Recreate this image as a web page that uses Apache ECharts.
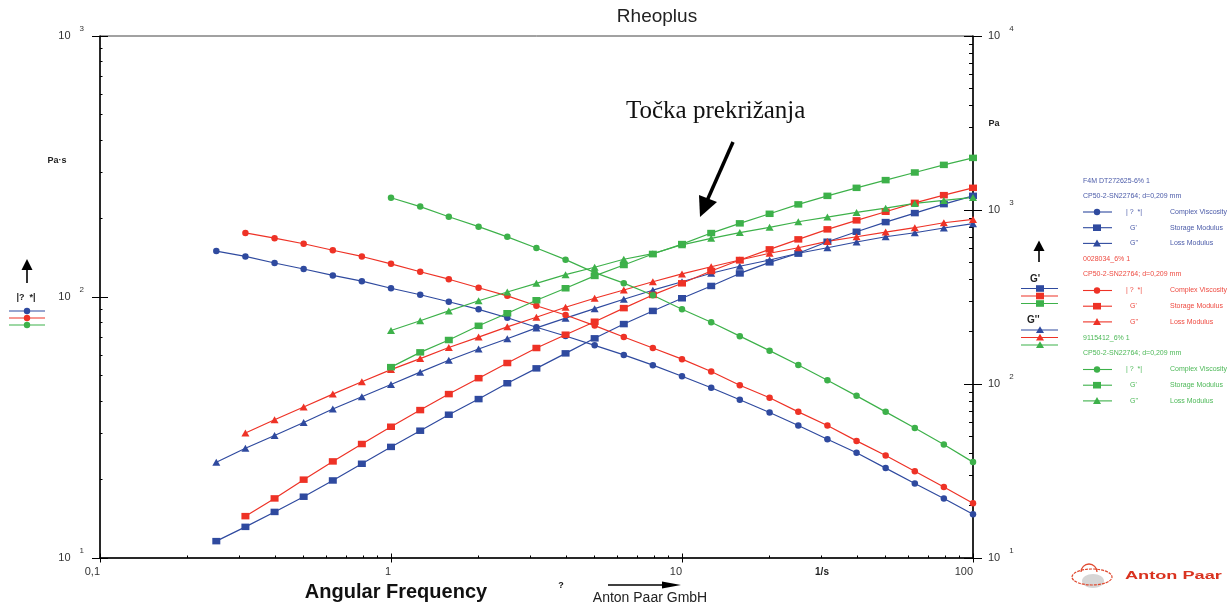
<!DOCTYPE html>
<html>
<head>
<meta charset="utf-8">
<script src="https://cdn.jsdelivr.net/npm/echarts@6/dist/echarts.min.js"></script>
<style>
html,body{margin:0;padding:0;background:#fff}
#main{width:1232px;height:607px}
</style>
</head>
<body>
<div id="main"></div>
<script>
// angular frequency [1/s], 10 points per decade
var freq = [0.251,0.316,0.398,0.501,0.631,0.794,1,1.26,1.58,2,2.51,3.16,3.98,5.01,6.31,7.94,10,12.6,15.8,20,25.1,31.6,39.8,50.1,63.1,79.4,100];

// F4M DT272625-6% 1 (blue) - from 0.251
var blueEta = [150,143,135,128,121,115,108,102,95.9,89.7,83.3,76.6,70.9,65.3,60.0,54.8,49.7,44.9,40.4,36.1,32.2,28.5,25.3,22.1,19.3,16.9,14.7];
var blueG1 = [12.5,15.1,18.4,22.5,27.9,34.8,43.5,53.9,66.6,81.9,101,123,150,183,221,263,311,366,432,500,564,657,750,852,960,1081,1206];
var blueG2 = [35.5,42.7,50.6,60.1,71.8,84.4,99.3,117,137,159,182,210,239,271,307,346,387,433,475,516,564,607,655,702,740,788,834];

// 0028034_6% 1 (red) - from 0.316
var redEta = [176,168,160,151,143,134,125,117,108.5,101,92.6,85.3,77.7,70.3,63.8,57.8,51.8,45.9,41.1,36.3,32.2,28.1,24.7,21.5,18.7,16.2];
var redG1 = [17.4,22.0,28.2,35.9,45.2,56.8,70.8,87.5,108,132,161,192,228,273,325,379,446,516,594,678,774,872,977,1099,1217,1341];
var redG2 = [52.3,62.3,73.7,87.5,103,121,140,162,186,213,242,276,311,347,387,429,472,516,564,607,660,702,747,791,845,883];

// 9115412_6% 1 (green) - from 1
var greenEta = [240,222,203,186,170,154,139,124,113,101.5,89.7,80.0,70.8,62.3,54.9,48.0,41.8,36.3,31.5,27.2,23.3];
var greenG1 = [125,152,179,216,255,303,355,418,483,559,637,737,838,951,1077,1206,1341,1485,1643,1817,1993];
var greenG2 = [203,231,263,301,338,379,425,469,521,561,631,687,742,795,856,911,968,1025,1091,1135,1181];

var xMajor = [0.1,1,10,100];
var leftMajor = [10,100,1000];
var rightMajor = [10,100,1000,10000];

var BLUE = '#2f4a9f', RED = '#ee3226', GREEN = '#3db14a';
var FONT = '"Liberation Sans", Arial, sans-serif';

function minors(lo, hi) {
  var out = [];
  for (var d = lo; d < hi; d *= 10)
    for (var k = 2; k <= 9; k++) out.push(+(k * d).toPrecision(3));
  return out;
}

function pairs(ys) {
  var off = freq.length - ys.length;
  return ys.map(function (v, i) { return [freq[off + i], v]; });
}

function line(name, ys, color, symbol, size, yIdx) {
  return {
    name: name, type: 'line', xAxisIndex: 0, yAxisIndex: yIdx,
    data: pairs(ys), symbol: symbol, symbolSize: size, showSymbol: true,
    lineStyle: {color: color, width: 1.2}, itemStyle: {color: color},
    animation: false
  };
}

function tickAxis(grid, pos, min, max, vals, len) {
  return {
    type: 'log', gridIndex: grid, position: pos, min: min, max: max,
    axisLine: {show: false}, axisLabel: {show: false}, splitLine: {show: false},
    axisTick: {show: true, inside: true, length: len, customValues: vals, lineStyle: {color: '#000', width: 1}}
  };
}

var powRich = {
  b: {fontSize: 11, color: '#333', fontFamily: FONT, lineHeight: 22},
  e: {fontSize: 8, color: '#333', fontFamily: FONT, verticalAlign: 'top', lineHeight: 8, padding: [0, 0, 0, 9]}
};
function powLabel(v) { return '{b|10}{e|' + Math.round(Math.log10(v)) + '}'; }

var gridRect = {left: 100, top: 36, width: 873, height: 522, outerBoundsMode: 'none'};

// ---- graphic: texts, legends, arrows
var g = [];
function txt(x, y, s, font, color, align, extra) {
  var o = {type: 'text', x: x, y: y, style: {text: s, font: font, fill: color || '#222', textAlign: align || 'left', textVerticalAlign: 'middle'}};
  if (extra) for (var k in extra) o[k] = extra[k];
  g.push(o);
}
function seg(x1, y1, x2, y2, color, w) {
  g.push({type: 'line', shape: {x1: x1, y1: y1, x2: x2, y2: y2}, style: {stroke: color, lineWidth: w || 1}});
}
function poly(pts, color) {
  g.push({type: 'polygon', shape: {points: pts}, style: {fill: color}});
}
function marker(kind, x, y, color) {
  if (kind === 'circle') g.push({type: 'circle', shape: {cx: x, cy: y, r: 3.2}, style: {fill: color}});
  else if (kind === 'rect') g.push({type: 'rect', shape: {x: x - 4, y: y - 3.3, width: 8, height: 6.6}, style: {fill: color}});
  else poly([[x, y - 3.8], [x - 4, y + 3], [x + 4, y + 3]], color);
}

txt(657, 17, 'Rheoplus', '19px ' + FONT, '#222', 'center');
txt(57, 161, 'Pa·s', 'bold 9px ' + FONT, '#222', 'center');
txt(994, 124, 'Pa', 'bold 9px ' + FONT, '#222', 'center');
txt(822, 572, '1/s', 'bold 10px ' + FONT, '#222', 'center');

// crossover annotation
txt(626, 111, 'Točka prekrižanja', '25px "Liberation Serif", "Times New Roman", serif', '#111', 'left');
seg(733, 142, 706, 203, '#000', 3.5);
poly([[700, 217], [717, 202], [699, 195]], '#000');

// left axis legend
seg(27, 283, 27, 267, '#000', 1.6);
poly([[27, 259], [21.5, 270], [32.5, 270]], '#000');
txt(26, 298, '|?  *|', 'bold 9px ' + FONT, '#222', 'center');
[[BLUE, 311], [RED, 318], [GREEN, 325]].forEach(function (r) {
  seg(9, r[1], 45, r[1], r[0], 1.2);
  marker('circle', 27, r[1], r[0]);
});

// right axis legend
seg(1039, 262, 1039, 249, '#000', 1.6);
poly([[1039, 240.5], [1033.5, 251], [1044.5, 251]], '#000');
txt(1030, 279, "G'", 'bold 10px ' + FONT, '#222', 'left');
[[BLUE, 288.5], [RED, 296], [GREEN, 303.5]].forEach(function (r) {
  seg(1021, r[1], 1058, r[1], r[0], 1.2);
  marker('rect', 1040, r[1], r[0]);
});
txt(1027, 320, "G''", 'bold 10px ' + FONT, '#222', 'left');
[[BLUE, 330], [RED, 337.5], [GREEN, 345]].forEach(function (r) {
  seg(1021, r[1], 1058, r[1], r[0], 1.2);
  marker('triangle', 1040, r[1], r[0]);
});

// sample legend block
var samples = [
  ['F4M DT272625-6% 1', BLUE, '#4a5aa8', 181],
  ['0028034_6% 1', RED, '#ee4a40', 259.5],
  ['9115412_6% 1', GREEN, '#4cb857', 338.5]
];
var rows = [['circle', '| ?  *|', 'Complex Viscosity', 1126], ['rect', "G'", 'Storage Modulus', 1130], ['triangle', "G''", 'Loss Modulus', 1130]];
samples.forEach(function (s) {
  var f = '7px ' + FONT;
  txt(1083, s[3], s[0], f, s[2], 'left');
  txt(1083, s[3] + 15, 'CP50-2-SN22764; d=0,209 mm', f, s[2], 'left');
  rows.forEach(function (r, i) {
    var y = s[3] + 31 + i * 15.7;
    seg(1083, y, 1112, y, s[1], 1.1);
    marker(r[0], 1097, y, s[1]);
    txt(r[3], y, r[1], f, s[2], 'left');
    txt(1170, y, r[2], f, s[2], 'left');
  });
});

// bottom texts
txt(396, 592, 'Angular Frequency', 'bold 20px ' + FONT, '#111', 'center');
txt(561, 586, '?', 'bold 9px ' + FONT, '#111', 'center');
seg(608, 585, 665, 585, '#000', 1.5);
poly([[681, 585], [662, 581.5], [662, 588.5]], '#000');
txt(650, 598, 'Anton Paar GmbH', '14px ' + FONT, '#222', 'center');

// logo
g.push({type: 'ellipse', shape: {cx: 1093, cy: 581, rx: 11, ry: 7}, style: {fill: '#d6d6d6'}});
g.push({type: 'ellipse', shape: {cx: 1092, cy: 577, rx: 20, ry: 8}, style: {fill: 'none', stroke: '#e04a30', lineWidth: 1.2, lineDash: [3, 1]}});
g.push({type: 'arc', shape: {cx: 1089, cy: 572, r: 8, startAngle: Math.PI, endAngle: 2 * Math.PI}, style: {fill: 'none', stroke: '#e04a30', lineWidth: 1.3}});
txt(1125, 576, 'Anton Paar', 'bold 11px ' + FONT, '#d9321f', 'left', {scaleX: 1.65, originX: 0, originY: 0});

var chart = echarts.init(document.getElementById('main'), null, {renderer: 'canvas'});
chart.setOption({
  animation: false,
  backgroundColor: '#fff',
  grid: [
    Object.assign({show: true, borderColor: '#444', borderWidth: 1}, gridRect),
    Object.assign({show: false}, gridRect),
    Object.assign({show: false}, gridRect)
  ],
  xAxis: [
    {
      type: 'log', gridIndex: 0, position: 'bottom', min: 0.1, max: 100,
      axisLine: {lineStyle: {color: '#000', width: 1.5}},
      axisTick: {inside: false, length: 4.5, lineStyle: {color: '#000', width: 1}},
      axisLabel: {
        align: 'right', margin: 8, fontSize: 11, color: '#333', fontFamily: FONT,
        customValues: xMajor,
        formatter: function (v) { return String(v).replace('.', ','); }
      },
      splitLine: {show: false}
    },
    tickAxis(1, 'bottom', 0.1, 100, minors(0.1, 100), 2.5),
    tickAxis(2, 'bottom', 0.1, 100, xMajor, 4.5)
  ],
  yAxis: [
    {
      type: 'log', gridIndex: 0, position: 'left', min: 10, max: 1000,
      axisLine: {lineStyle: {color: '#000', width: 1.5}},
      axisTick: {inside: false, length: 8, lineStyle: {color: '#000', width: 1}},
      axisLabel: {margin: 16, formatter: powLabel, rich: powRich},
      splitLine: {show: false}
    },
    {
      type: 'log', gridIndex: 0, position: 'right', min: 10, max: 10000,
      axisLine: {lineStyle: {color: '#000', width: 1.5}},
      axisTick: {inside: false, length: 9, lineStyle: {color: '#000', width: 1}},
      axisLabel: {margin: 15, formatter: powLabel, rich: powRich},
      splitLine: {show: false}
    },
    tickAxis(1, 'left', 10, 1000, minors(10, 1000), 2.5),
    tickAxis(1, 'right', 10, 10000, minors(10, 10000), 4),
    tickAxis(2, 'left', 10, 1000, leftMajor, 8),
    tickAxis(2, 'right', 10, 10000, rightMajor, 9)
  ],
  series: [
    line('Blue |η*|', blueEta, BLUE, 'circle', 6.5, 0),
    line("Blue G'", blueG1, BLUE, 'rect', [8, 6.5], 1),
    line("Blue G''", blueG2, BLUE, 'triangle', [8, 7], 1),
    line('Red |η*|', redEta, RED, 'circle', 6.5, 0),
    line("Red G'", redG1, RED, 'rect', [8, 6.5], 1),
    line("Red G''", redG2, RED, 'triangle', [8, 7], 1),
    line('Green |η*|', greenEta, GREEN, 'circle', 6.5, 0),
    line("Green G'", greenG1, GREEN, 'rect', [8, 6.5], 1),
    line("Green G''", greenG2, GREEN, 'triangle', [8, 7], 1)
  ],
  graphic: g
});
</script>
</body>
</html>
